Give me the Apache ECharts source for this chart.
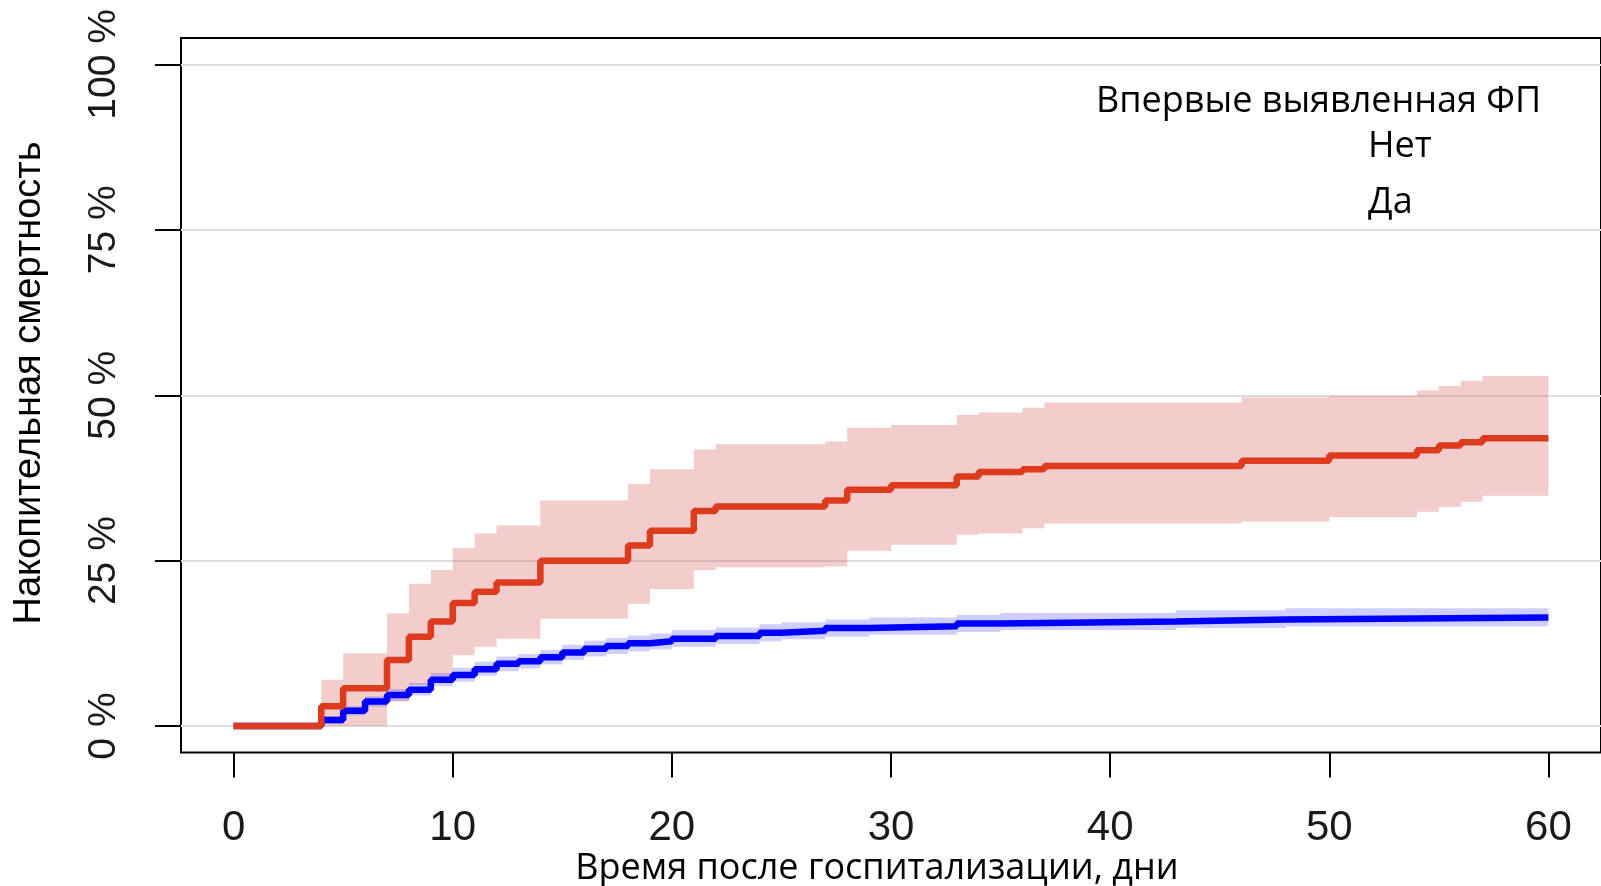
<!DOCTYPE html>
<html>
<head>
<meta charset="utf-8">
<script src="https://cdn.jsdelivr.net/npm/echarts@6/dist/echarts.min.js"></script>
<style>
html,body{margin:0;padding:0;background:#fff;}
#chart{width:1601px;height:886px;}
</style>
</head>
<body>
<div id="chart"></div>
<script>
// ---- Data (cumulative mortality, %) ----
const xTicks = [0, 10, 20, 30, 40, 50, 60];
const yTicks = [0, 25, 50, 75, 100];

// "Да" (new-onset AF) – red
const redT   = [0, 4, 5, 7, 8, 9, 10, 11, 12, 14, 18, 19, 21, 22, 27, 28, 30, 33, 34, 36, 37, 46, 50, 54, 55, 56, 57, 60];
const redEst = [0, 3.0, 5.7, 10.0, 13.5, 15.8, 18.6, 20.3, 21.7, 25.0, 27.3, 29.5, 32.5, 33.2, 34.1, 35.7, 36.4, 37.7, 38.4, 38.8, 39.3, 40.1, 40.9, 41.7, 42.4, 42.9, 43.5, 43.5];
const redLo  = [0, 0, 0, 3.7, 6.2, 7.5, 10.7, 12.0, 13.2, 16.2, 18.5, 20.7, 23.6, 24.0, 24.1, 26.5, 27.4, 28.9, 29.1, 29.9, 30.6, 30.9, 31.6, 32.4, 33.1, 33.9, 34.8, 34.8];
const redHi  = [0, 7.0, 11.0, 17.0, 21.5, 23.6, 26.9, 29.1, 30.3, 34.1, 36.6, 38.8, 41.8, 42.6, 43.0, 45.1, 45.5, 47.0, 47.4, 48.1, 48.9, 49.7, 49.9, 50.7, 51.4, 52.2, 52.9, 52.9];

// "Нет" – blue
const blueT   = [0, 4, 5, 6, 7, 8, 9, 10, 11, 12, 13, 14, 15, 16, 17, 18, 19, 20, 22, 24, 25, 27, 29, 33, 35, 43, 48, 60];
const blueEst = [0, 0.9, 2.3, 3.7, 4.7, 5.5, 7.0, 7.7, 8.6, 9.4, 9.8, 10.4, 11.1, 11.7, 12.1, 12.5, 12.8, 13.2, 13.6, 14.1, 14.4, 14.8, 15.1, 15.5, 15.8, 16.1, 16.4, 16.4];
const blueLo  = [0, 0.3, 1.6, 2.9, 3.8, 4.6, 6.0, 6.7, 7.6, 8.3, 8.7, 9.3, 10.0, 10.5, 10.9, 11.3, 11.6, 12.0, 12.4, 12.8, 13.1, 13.5, 13.8, 14.2, 14.5, 14.8, 15.1, 15.1];
const blueHi  = [0, 1.5, 3.0, 4.5, 5.6, 6.5, 8.0, 8.8, 9.7, 10.5, 10.9, 11.5, 12.3, 12.9, 13.3, 13.7, 14.0, 14.5, 14.9, 15.4, 15.7, 16.1, 16.4, 16.8, 17.1, 17.5, 17.8, 17.8];

const legendTitle = 'Впервые выявленная ФП';
const legendNames = ['Нет', 'Да'];
const xTitle = 'Время после госпитализации, дни';
const yTitle = 'Накопительная смертность';

// ---- build ----
const pairs = (t, v) => t.map((x, i) => [x, v[i]]);

// step-shaped confidence band drawn as one polygon via the axes' scales
function bandSeries(name, t, lo, hi, color, z) {
  return {
    name: name, type: 'custom', silent: true, z: z,
    data: [[t[0], lo[0]]], encode: {x: 0, y: 1},
    renderItem: (params, api) => {
      const pts = [];
      for (let i = 0; i < t.length - 1; i++) {
        pts.push(api.coord([t[i], hi[i]]));
        pts.push(api.coord([t[i + 1], hi[i]]));
      }
      for (let i = t.length - 2; i >= 0; i--) {
        pts.push(api.coord([t[i + 1], lo[i]]));
        pts.push(api.coord([t[i], lo[i]]));
      }
      return {type: 'polygon', shape: {points: pts}, style: {fill: color}};
    }
  };
}

const chart = echarts.init(document.getElementById('chart'), null, {renderer: 'canvas'});

const option = {
  animation: false,
  backgroundColor: '#fff',
  grid: {left: 181, top: 38, width: 1430, height: 714.5, show: true,
         borderColor: '#000', borderWidth: 2, backgroundColor: 'transparent', containLabel: false},
  xAxis: {
    type: 'value', min: -2.4, max: 62.4,
    axisLine: {show: false, onZero: false},
    axisTick: {show: true, length: 25, customValues: xTicks, lineStyle: {color: '#000', width: 2}},
    axisLabel: {show: true, customValues: xTicks, margin: 55,
      fontFamily: '"Liberation Sans", Arial, sans-serif',
      fontSize: 42, lineHeight: 42, color: '#1a1a1a', verticalAlign: 'top'},
    splitLine: {show: false}
  },
  yAxis: {
    type: 'value', min: -4, max: 104,
    axisLine: {show: false, onZero: false},
    axisTick: {show: true, length: 26, customValues: yTicks, lineStyle: {color: '#000', width: 2}},
    axisLabel: {show: true, customValues: yTicks, rotate: 90, margin: 57,
      formatter: v => v + ' %',
      fontFamily: '"Liberation Sans", Arial, sans-serif',
      fontSize: 39, lineHeight: 39, color: '#1a1a1a'},
    splitLine: {show: true, lineStyle: {color: '#dedede', width: 2}}
  },
  series: [
    bandSeries('Да_CI', redT, redLo, redHi, 'rgba(214,92,86,0.31)', 2),
    bandSeries('Нет_CI', blueT, blueLo, blueHi, 'rgba(50,50,255,0.24)', 3),
    {name: legendNames[0], type: 'line', step: 'end', data: pairs(blueT, blueEst), symbol: 'none',
     lineStyle: {color: '#0000ff', width: 6.5}, z: 4},
    {name: legendNames[1], type: 'line', step: 'end', data: pairs(redT, redEst), symbol: 'none',
     lineStyle: {color: '#dc3b1e', width: 6.5}, z: 5}
  ],
  graphic: [
    {type: 'text', x: 30, y: 383, rotation: Math.PI / 2,
     style: {text: yTitle, font: '38px "Liberation Sans", Arial, sans-serif', fill: '#000',
             align: 'center', verticalAlign: 'middle'}},
    {type: 'text', x: 877, y: 869,
     style: {text: xTitle, font: '36px "Open Sans", sans-serif', fill: '#000',
             align: 'center', verticalAlign: 'middle'}},
    {type: 'text', x: 1096, y: 102,
     style: {text: legendTitle, font: '36px "Open Sans", sans-serif', fill: '#000',
             align: 'left', verticalAlign: 'middle'}},
    {type: 'text', x: 1368, y: 147,
     style: {text: legendNames[0], font: '36px "Open Sans", sans-serif', fill: '#000',
             align: 'left', verticalAlign: 'middle'}},
    {type: 'text', x: 1368, y: 203,
     style: {text: legendNames[1], font: '36px "Open Sans", sans-serif', fill: '#000',
             align: 'left', verticalAlign: 'middle'}}
  ]
};
chart.setOption(option);
</script>
</body>
</html>
